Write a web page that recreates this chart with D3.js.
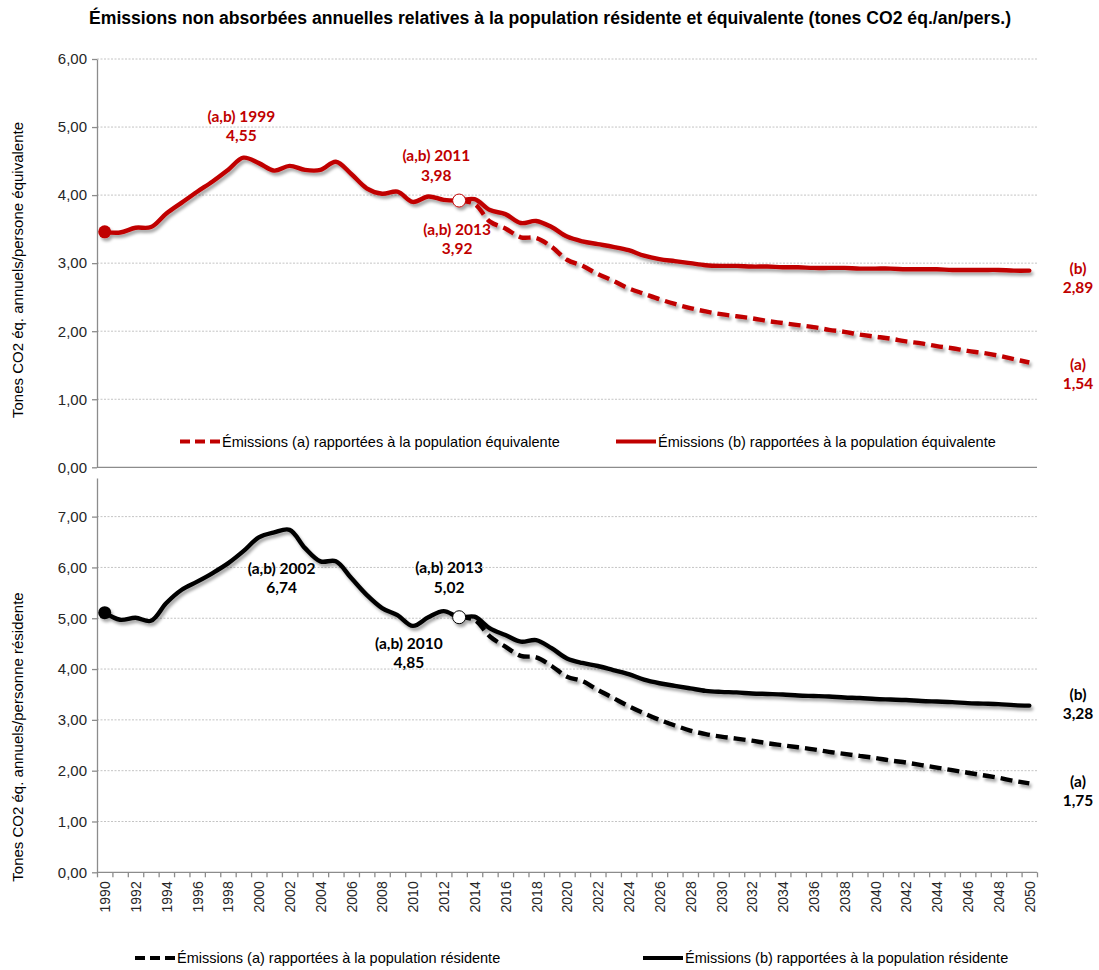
<!DOCTYPE html>
<html lang="fr">
<head>
<meta charset="utf-8">
<script src="https://cdn.jsdelivr.net/npm/d3@7"></script>
<style>
  html, body { margin: 0; padding: 0; background: #fff; }
  svg { display: block; }
  text { font-family: "Liberation Sans", Arial, sans-serif; }
  .note { font-family: Lato, "Carlito", "Open Sans", sans-serif; font-weight: 700; }
</style>
</head>
<body>
<svg id="chart" width="1099" height="970"></svg>
<script>
// Years 1990–2050
const years = d3.range(1990, 2051);

// Emissions per equivalent inhabitant (t CO2 eq./yr) – scenario (b), full series
const equivB = [
  3.46, 3.45, 3.52, 3.53, 3.73, 3.89, 4.05, 4.20, 4.37, 4.55,
  4.47, 4.36, 4.43, 4.37, 4.37, 4.49, 4.31, 4.10, 4.02, 4.05,
  3.90, 3.98, 3.93, 3.92, 3.94, 3.78, 3.72, 3.59, 3.62, 3.53,
  3.39, 3.32, 3.28, 3.24, 3.19, 3.11, 3.06, 3.03, 3.00, 2.97,
  2.96, 2.96, 2.95, 2.95, 2.94, 2.94, 2.93, 2.93, 2.93, 2.92,
  2.92, 2.92, 2.91, 2.91, 2.91, 2.90, 2.90, 2.90, 2.90, 2.89,
  2.89
];
// Scenario (a), identical to (b) up to 2013
const equivA = [
  3.46, 3.45, 3.52, 3.53, 3.73, 3.89, 4.05, 4.20, 4.37, 4.55,
  4.47, 4.36, 4.43, 4.37, 4.37, 4.49, 4.31, 4.10, 4.02, 4.05,
  3.90, 3.98, 3.93, 3.92, 3.87, 3.61, 3.51, 3.38, 3.37, 3.24,
  3.05, 2.96, 2.84, 2.74, 2.63, 2.55, 2.47, 2.40, 2.34, 2.29,
  2.25, 2.22, 2.19, 2.15, 2.12, 2.09, 2.06, 2.02, 1.99, 1.95,
  1.92, 1.89, 1.85, 1.82, 1.78, 1.75, 1.71, 1.68, 1.64, 1.59,
  1.54
];

// Emissions per resident (t CO2 eq./yr) – scenario (b)
const residB = [
  5.11, 4.97, 5.01, 4.95, 5.30, 5.56, 5.72, 5.89, 6.08, 6.32,
  6.59, 6.69, 6.74, 6.38, 6.12, 6.12, 5.79, 5.46, 5.20, 5.06,
  4.85, 5.02, 5.14, 5.02, 5.03, 4.80, 4.67, 4.54, 4.57, 4.41,
  4.21, 4.12, 4.06, 3.98, 3.90, 3.79, 3.72, 3.67, 3.62, 3.57,
  3.55, 3.54, 3.52, 3.51, 3.50, 3.48, 3.47, 3.46, 3.44, 3.43,
  3.41, 3.40, 3.39, 3.37, 3.36, 3.35, 3.33, 3.32, 3.31, 3.29,
  3.28
];
// Scenario (a)
const residA = [
  5.11, 4.97, 5.01, 4.95, 5.30, 5.56, 5.72, 5.89, 6.08, 6.32,
  6.59, 6.69, 6.74, 6.38, 6.12, 6.12, 5.79, 5.46, 5.20, 5.06,
  4.85, 5.02, 5.14, 5.02, 4.97, 4.64, 4.44, 4.26, 4.23, 4.06,
  3.85, 3.76, 3.59, 3.43, 3.27, 3.13, 3.00, 2.89, 2.79, 2.72,
  2.67, 2.63, 2.59, 2.54, 2.50, 2.46, 2.42, 2.37, 2.33, 2.29,
  2.25, 2.20, 2.16, 2.11, 2.06, 2.01, 1.96, 1.91, 1.86, 1.80,
  1.75
];

// Tick values
const topTicks = [0, 1, 2, 3, 4, 5, 6];
const bottomTicks = [0, 1, 2, 3, 4, 5, 6, 7];
const yearLabels = years.filter(y => y % 2 === 0);

// Annotations placed relative to the annotated point
const topNotes = [
  { year: 1999, text: "(a,b) 1999", value: 4.55, dx: -2, dy: -36 },
  { year: 2011, text: "(a,b) 2011", value: 3.98, dx: 8, dy: -35 },
  { year: 2013, text: "(a,b) 2013", value: 3.92, dx: -2, dy: 34 }
];
const bottomNotes = [
  { year: 2002, text: "(a,b) 2002", value: 6.74, dx: -8, dy: 44 },
  { year: 2013, text: "(a,b) 2013", value: 5.02, dx: -10, dy: -44 },
  { year: 2010, text: "(a,b) 2010", value: 4.85, dx: -4, dy: 23 }
];

const RED = "#C00000";
const INK = "#000000";
const fmt = v => v.toFixed(2).replace(".", ",");

const svg = d3.select("#chart");

// drop shadow for the data lines
const defs = svg.append("defs");
const f = defs.append("filter").attr("id", "shadow")
  .attr("x", "-5%").attr("y", "-20%").attr("width", "110%").attr("height", "140%");
f.append("feDropShadow").attr("dx", 2).attr("dy", 3).attr("stdDeviation", 1.6)
  .attr("flood-color", "#000").attr("flood-opacity", 0.35);

// Shared x scale (categories centred between tick marks)
const xLeft = 97, xRight = 1037;
const x = d3.scaleLinear().domain([1989.5, 2050.5]).range([xLeft, xRight]);

// Title
svg.append("text")
  .attr("x", 550).attr("y", 24)
  .attr("text-anchor", "middle")
  .attr("font-size", 17.6).attr("font-weight", "bold").attr("fill", "#000")
  .text("Émissions non absorbées annuelles relatives à la population résidente et équivalente (tones CO2 éq./an/pers.)");

function panel(opts) {
  const { y, ticks, a, b, color, notes, title, titleY, endLabels, showXAxis } = opts;
  const g = svg.append("g");

  // gridlines
  g.append("g").selectAll("line")
    .data(ticks.filter(t => t > 0))
    .join("line")
    .attr("x1", xLeft).attr("x2", xRight)
    .attr("y1", d => y(d)).attr("y2", d => y(d))
    .attr("stroke", "#c4c4c4").attr("stroke-width", 1)
    .attr("stroke-dasharray", "2,1.5");

  // y axis
  const yAxis = g.append("g")
    .attr("transform", `translate(${xLeft},0)`)
    .call(d3.axisLeft(y).tickValues(ticks).tickFormat(fmt).tickSizeInner(5).tickSizeOuter(0).tickPadding(5));
  yAxis.select(".domain").attr("stroke", "#8c8c8c").attr("stroke-width", 1.3);
  yAxis.selectAll(".tick line").attr("stroke", "#8c8c8c").attr("stroke-width", 1.3);
  yAxis.selectAll(".tick text").attr("font-size", 15).attr("fill", "#262626")
    .attr("font-family", "'Liberation Sans', Arial, sans-serif");

  // baseline
  g.append("line")
    .attr("x1", xLeft).attr("x2", xRight)
    .attr("y1", y(0)).attr("y2", y(0))
    .attr("stroke", "#8c8c8c").attr("stroke-width", 1.3);

  if (showXAxis) {
    const tickAxis = g.append("g")
      .attr("transform", `translate(0,${y(0)})`)
      .call(d3.axisBottom(x).tickValues(d3.range(1989.5, 2051, 1)).tickFormat("").tickSizeInner(5).tickSizeOuter(0));
    tickAxis.select(".domain").remove();
    tickAxis.selectAll(".tick line").attr("stroke", "#8c8c8c").attr("stroke-width", 1.3);

    const labelAxis = g.append("g")
      .attr("transform", `translate(0,${y(0)})`)
      .call(d3.axisBottom(x).tickValues(yearLabels).tickFormat(d3.format("d")).tickSize(0));
    labelAxis.select(".domain").remove();
    labelAxis.selectAll(".tick text")
      .attr("font-size", 14).attr("fill", "#262626")
      .attr("font-family", "'Liberation Sans', Arial, sans-serif")
      .attr("transform", "rotate(-90)")
      .attr("text-anchor", "end")
      .attr("x", -9).attr("y", 0).attr("dy", "0.35em");
  }

  // y axis title
  g.append("text")
    .attr("transform", `translate(23,${titleY}) rotate(-90)`)
    .attr("text-anchor", "middle")
    .attr("font-size", 15).attr("fill", "#000")
    .text(title);

  const line = d3.line()
    .x(d => x(d.year)).y(d => y(d.v))
    .curve(d3.curveCatmullRom.alpha(0.5));

  const aData = years.map((yr, i) => ({ year: yr, v: a[i] })).filter(d => d.year >= 2013);
  const bData = years.map((yr, i) => ({ year: yr, v: b[i] }));

  const lines = g.append("g").attr("filter", "url(#shadow)");
  lines.append("path").datum(aData)
    .attr("d", line).attr("fill", "none")
    .attr("stroke", color).attr("stroke-width", 4.4)
    .attr("stroke-dasharray", "12,6");
  lines.append("path").datum(bData)
    .attr("d", line).attr("fill", "none")
    .attr("stroke", color).attr("stroke-width", 4.4)
    .attr("stroke-linejoin", "round").attr("stroke-linecap", "round");

  // markers
  lines.append("circle")
    .attr("cx", x(years[0])).attr("cy", y(b[0])).attr("r", 6.5)
    .attr("fill", color);
  const i13 = years.indexOf(2013);
  lines.append("circle")
    .attr("cx", x(2013)).attr("cy", y(b[i13])).attr("r", 6.5)
    .attr("fill", "#fff").attr("stroke", color).attr("stroke-width", 1);

  // annotations
  notes.forEach(n => {
    const i = years.indexOf(n.year);
    const cx = x(n.year) + n.dx;
    const cy = y(b[i]) + n.dy;
    const t = g.append("text").attr("class", "note")
      .attr("text-anchor", "middle").attr("font-size", 15.5).attr("fill", color);
    t.append("tspan").attr("x", cx).attr("y", cy).text(n.text);
    t.append("tspan").attr("x", cx).attr("y", cy + 19.5).text(fmt(n.value));
  });

  // end-of-series labels
  endLabels.forEach(e => {
    const t = g.append("text").attr("class", "note")
      .attr("text-anchor", "middle").attr("font-size", 15.5).attr("fill", color);
    t.append("tspan").attr("x", 1078).attr("y", e.y).text(e.tag);
    t.append("tspan").attr("x", 1078).attr("y", e.y + 19).text(fmt(e.value));
  });
}

// Top panel: per equivalent inhabitant
const yTop = d3.scaleLinear().domain([0, 6]).range([467.3, 59]);
panel({
  y: yTop, ticks: topTicks, a: equivA, b: equivB, color: RED, notes: topNotes,
  title: "Tones CO2 éq. annuels/persone équivalente", titleY: 270,
  endLabels: [
    { tag: "(b)", value: equivB[equivB.length - 1], y: yTop(equivB[equivB.length - 1]) + 3 },
    { tag: "(a)", value: equivA[equivA.length - 1], y: yTop(equivA[equivA.length - 1]) + 7 }
  ],
  showXAxis: false
});

// Bottom panel: per resident
const yBot = d3.scaleLinear().domain([0, 7.76]).range([872.3, 478]);
panel({
  y: yBot, ticks: bottomTicks, a: residA, b: residB, color: INK, notes: bottomNotes,
  title: "Tones CO2 éq. annuels/personne résidente", titleY: 737,
  endLabels: [
    { tag: "(b)", value: residB[residB.length - 1], y: yBot(residB[residB.length - 1]) - 6 },
    { tag: "(a)", value: residA[residA.length - 1], y: yBot(residA[residA.length - 1]) + 4 }
  ],
  showXAxis: true
});

// Legends
function legend(items, yPos, color) {
  items.forEach(it => {
    svg.append("line")
      .attr("x1", it.x).attr("x2", it.x + 40)
      .attr("y1", yPos).attr("y2", yPos)
      .attr("stroke", color).attr("stroke-width", 4)
      .attr("stroke-dasharray", it.dashed ? "10,5" : null);
    svg.append("text")
      .attr("x", it.x + 42).attr("y", yPos).attr("dy", "0.35em")
      .attr("font-size", 14.5).attr("fill", "#000")
      .text(it.label);
  });
}
legend([
  { x: 180, dashed: true, label: "Émissions (a) rapportées à la population équivalente" },
  { x: 616, dashed: false, label: "Émissions (b) rapportées à la population équivalente" }
], 441.5, RED);
legend([
  { x: 135, dashed: true, label: "Émissions (a) rapportées à la population résidente" },
  { x: 643, dashed: false, label: "Émissions (b) rapportées à la population résidente" }
], 958, INK);
</script>
</body>
</html>
